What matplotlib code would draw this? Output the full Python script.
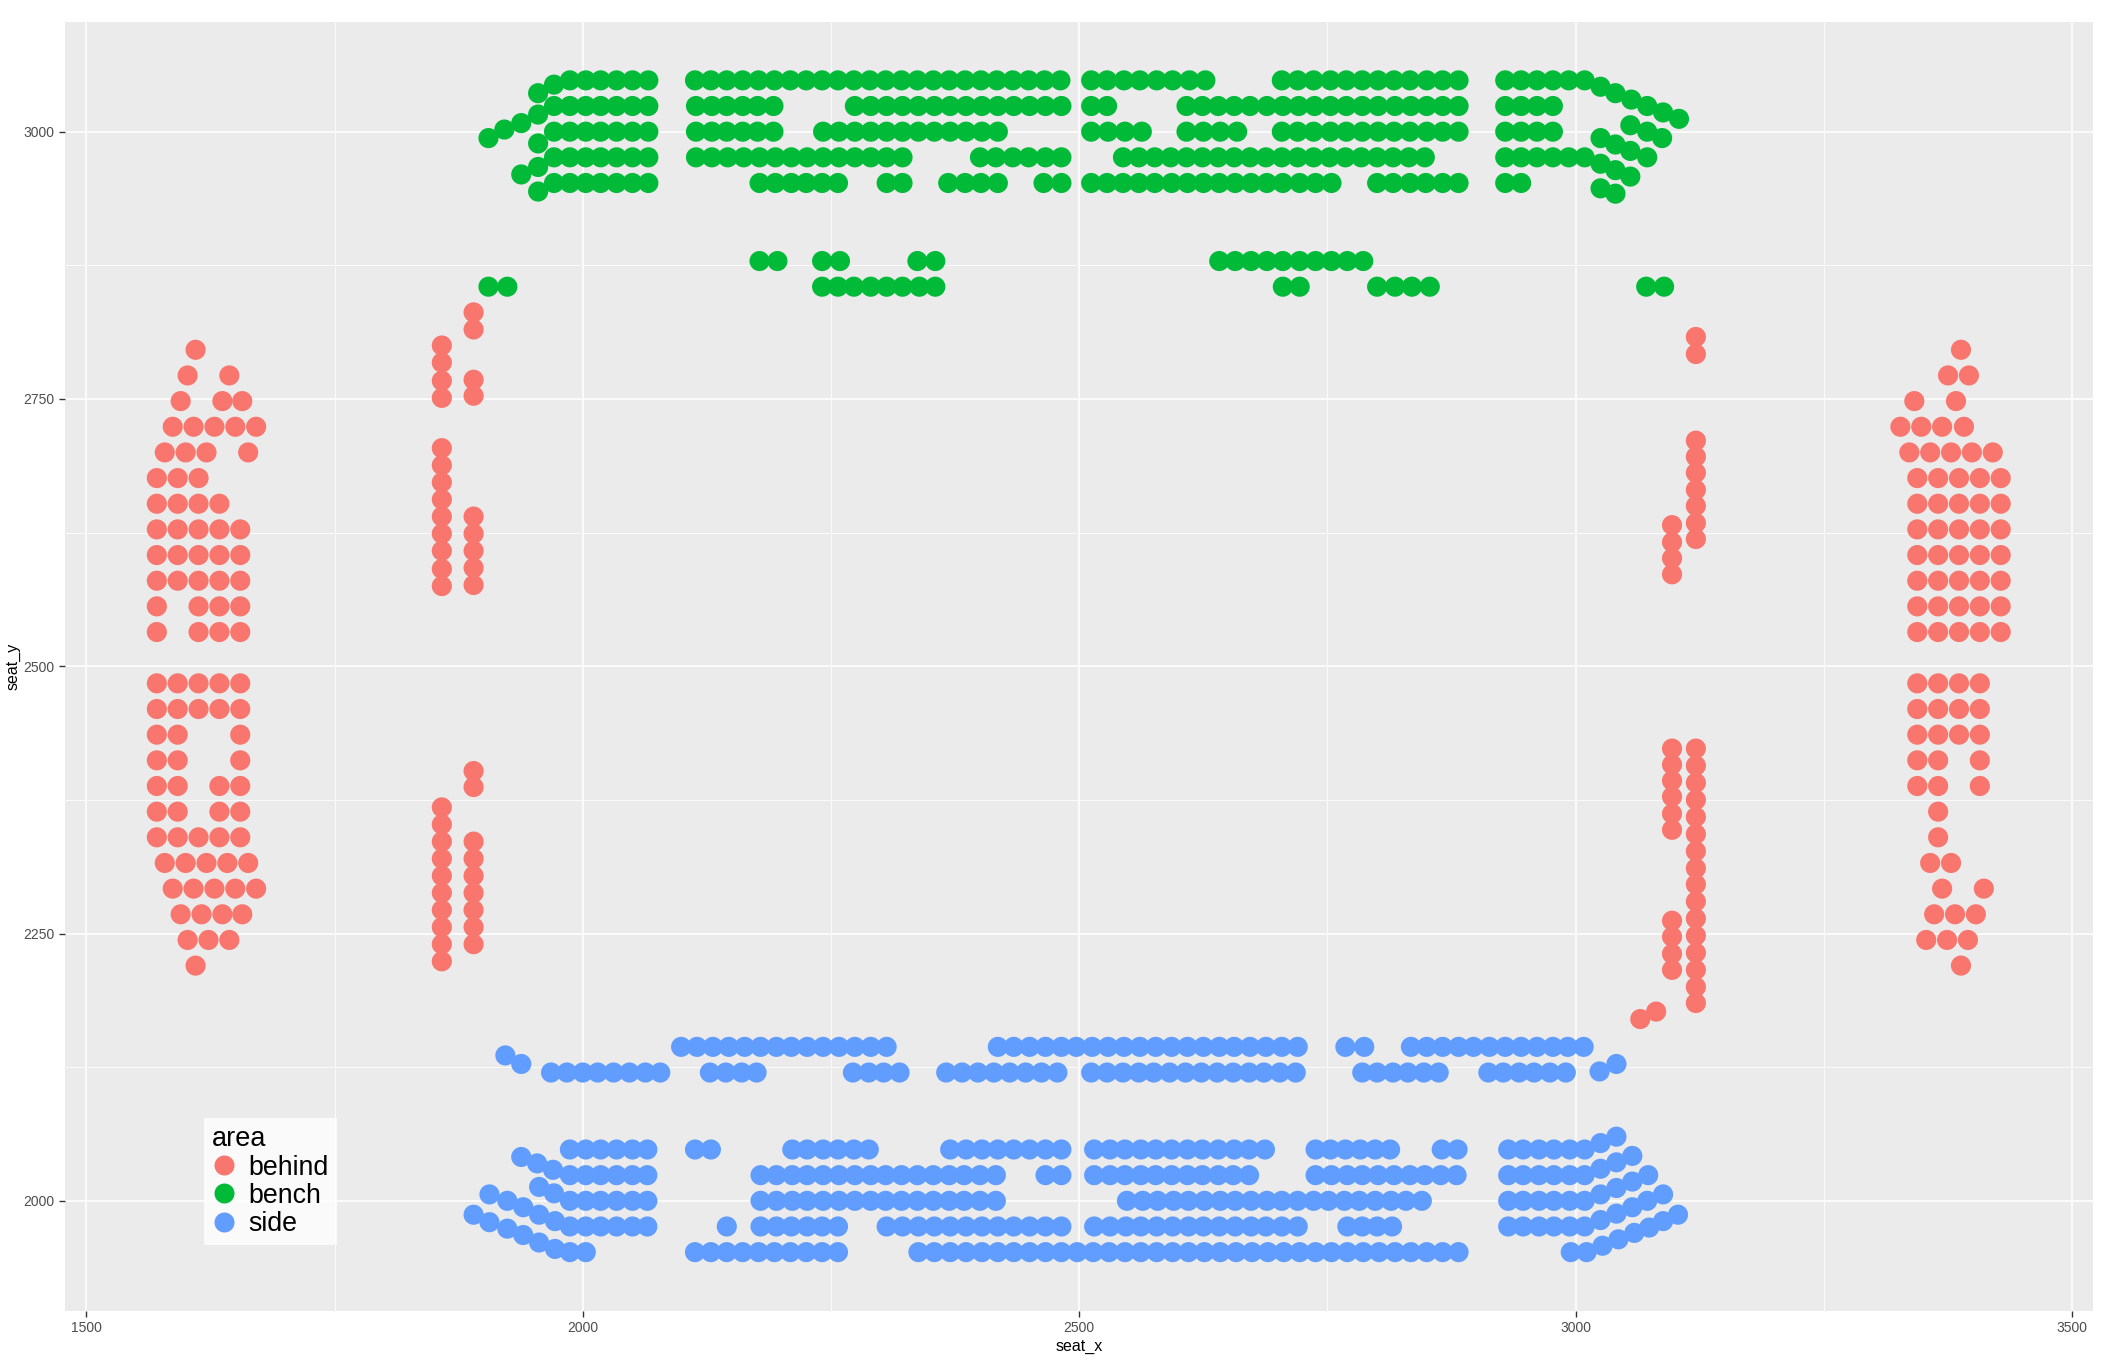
import numpy as np
import pandas as pd
import matplotlib
matplotlib.use("Agg")
import matplotlib.pyplot as plt
from matplotlib.lines import Line2D

plt.rcParams['font.family'] = ['Liberation Sans', 'DejaVu Sans']

# ggplot default hue colours
COL_BEHIND = '#F8766D'
COL_BENCH = '#00BA38'
COL_SIDE = '#619CFF'

# ---------------------------------------------------------------
# DATA  (seat_x per row, keyed by seat_y)
# ---------------------------------------------------------------
bench_rows = {
    3048: [1987, 2003, 2018, 2034, 2050, 2066,
           2113, 2129, 2145, 2161, 2177, 2193, 2209, 2225, 2241, 2257, 2273, 2289,
           2305, 2321, 2337, 2353, 2369, 2385, 2401, 2417, 2433, 2449, 2465, 2481,
           2512, 2528, 2545, 2561, 2578, 2594, 2611, 2627,
           2704, 2720, 2736, 2753, 2769, 2785, 2801, 2817, 2833, 2850, 2866, 2882,
           2929, 2945, 2961, 2977, 2993, 3009],
    3024: [1971, 1987, 2003, 2018, 2034, 2050, 2066,
           2114, 2130, 2145, 2161, 2176, 2192,
           2274, 2290, 2306, 2322, 2338, 2354, 2370, 2386, 2402, 2418, 2434, 2450, 2466, 2482,
           2512, 2528,
           2608, 2624, 2640, 2656, 2672, 2689, 2705, 2721, 2737, 2753, 2769, 2785, 2801,
           2818, 2834, 2850, 2866, 2882,
           2929, 2945, 2961, 2977],
    3000: [1971, 1987, 2003, 2018, 2034, 2050, 2066,
           2114, 2130, 2145, 2161, 2176, 2192,
           2242, 2258, 2274, 2290, 2306, 2322, 2338, 2354, 2370, 2386, 2402, 2418,
           2512, 2529, 2546, 2563,
           2608, 2625, 2642, 2659,
           2704, 2720, 2736, 2753, 2769, 2785, 2801, 2817, 2833, 2850, 2866, 2882,
           2929, 2945, 2961, 2977],
    2976: [1971, 1987, 2003, 2018, 2034, 2050, 2066,
           2114, 2130, 2146, 2162, 2178, 2194, 2210, 2226, 2242, 2258, 2274, 2290, 2306, 2322,
           2400, 2416, 2433, 2449, 2466, 2482,
           2544, 2560, 2576, 2592, 2608, 2624, 2640, 2656, 2672, 2688, 2704, 2720,
           2736, 2752, 2768, 2784, 2800, 2816, 2832, 2848,
           2929, 2945, 2961, 2977, 2993, 3009],
    2952: [1971, 1987, 2003, 2018, 2034, 2050, 2066,
           2178, 2194, 2210, 2225, 2241, 2257,
           2306, 2322,
           2368, 2385, 2401, 2418,
           2464, 2482,
           2512, 2528, 2544, 2560, 2576, 2593, 2609, 2625, 2641, 2657, 2673, 2689,
           2705, 2722, 2738, 2754,
           2800, 2816, 2833, 2849, 2866, 2882,
           2929, 2945],
    2879: [2178, 2196, 2241, 2259, 2337, 2355,
           2641, 2657, 2673, 2689, 2705, 2722, 2738, 2754, 2770, 2786],
    2855: [1905, 1924, 2241, 2257, 2273, 2290, 2306, 2322, 2339, 2355,
           2705, 2722, 2800, 2818, 2835, 2853, 3071, 3089],
}
# stepped row ends of the bench block (x, y)
bench_extra = [(1971, 3044), (1955, 3036),
               (1955, 3016), (1938, 3008), (1921, 3002), (1905, 2994),
               (1955, 2989), (1955, 2967), (1938, 2960), (1955, 2944),
               (3025, 3042), (3040, 3036), (3056, 3030), (3072, 3024), (3088, 3018), (3104, 3012),
               (3055, 3006), (3072, 3000), (3087, 2994),
               (3025, 2994), (3040, 2988), (3055, 2982), (3072, 2976),
               (3025, 2970), (3040, 2964), (3055, 2958),
               (3025, 2947), (3040, 2942)]

side_rows = {
    2144: [2099, 2115, 2131, 2147, 2163, 2179, 2195, 2210, 2226, 2242, 2258, 2274, 2290, 2306,
           2418, 2434, 2450, 2466, 2482, 2497, 2513, 2529, 2545, 2561, 2577, 2593, 2609,
           2625, 2641, 2656, 2672, 2688, 2704, 2720,
           2768, 2787,
           2834, 2850, 2866, 2882, 2897, 2913, 2929, 2945, 2961, 2977, 2992, 3008],
    2120: [1968, 1984, 2000, 2015, 2031, 2047, 2063, 2078,
           2128, 2144, 2160, 2175,
           2272, 2288, 2303, 2319,
           2366, 2382, 2398, 2414, 2430, 2446, 2462, 2478,
           2512, 2528, 2544, 2560, 2575, 2591, 2607, 2623, 2639, 2655, 2671, 2686, 2702, 2718,
           2785, 2800, 2816, 2831, 2847, 2862,
           2912, 2927, 2943, 2958, 2974, 2990],
    2048: [1987, 2003, 2018, 2034, 2050, 2065,
           2113, 2129,
           2211, 2226, 2242, 2257, 2273, 2288,
           2370, 2386, 2402, 2418, 2434, 2450, 2466, 2482,
           2515, 2531, 2546, 2562, 2577, 2593, 2609, 2624, 2640, 2656, 2671, 2687,
           2738, 2753, 2768, 2783, 2798, 2813,
           2865, 2881,
           2932, 2947, 2963, 2978, 2994, 3009],
    2024: [1987, 2003, 2018, 2034, 2050, 2065,
           2179, 2195, 2211, 2226, 2242, 2258, 2274, 2290, 2305, 2321, 2337, 2353,
           2369, 2384, 2400, 2416,
           2466, 2482,
           2515, 2531, 2546, 2562, 2577, 2593, 2609, 2624, 2640, 2655, 2671,
           2738, 2754, 2770, 2785, 2801, 2817, 2833, 2848, 2864, 2880,
           2932, 2947, 2963, 2978, 2994, 3009],
    2000: [1987, 2003, 2018, 2034, 2050, 2065,
           2179, 2195, 2211, 2226, 2242, 2258, 2274, 2290, 2305, 2321, 2337, 2353,
           2369, 2384, 2400, 2416,
           2548, 2564, 2579, 2595, 2610, 2626, 2642, 2657, 2673, 2689, 2704, 2720,
           2736, 2751, 2767, 2782, 2798, 2814, 2829, 2845,
           2932, 2947, 2963, 2978, 2994, 3009],
    1976: [1987, 2003, 2018, 2034, 2050, 2065,
           2145,
           2179, 2195, 2210, 2226, 2241, 2257,
           2306, 2322, 2338, 2354, 2370, 2386, 2402, 2418, 2434, 2450, 2466, 2482,
           2515, 2531, 2547, 2562, 2578, 2594, 2610, 2625, 2641, 2657, 2673, 2688, 2704, 2720,
           2770, 2785, 2800, 2815,
           2932, 2947, 2963, 2978, 2994, 3009],
    1952: [1987, 2003,
           2113, 2129, 2145, 2161, 2177, 2193, 2209, 2225, 2241, 2257,
           2338, 2354, 2370, 2386, 2402, 2418, 2434, 2450, 2466, 2482, 2498, 2514,
           2530, 2546, 2562, 2578, 2594, 2610, 2626, 2642, 2658, 2674, 2690, 2706,
           2722, 2738, 2754, 2770, 2786, 2802, 2818, 2834, 2850, 2866, 2882,
           2995, 3011],
}
side_extra = [(1922, 2136), (1938, 2128), (3024, 2121), (3041, 2128),
              (3025, 2054), (3041, 2060),
              (1938, 2041), (1954, 2035), (1970, 2029),
              (3025, 2030), (3041, 2036), (3057, 2042),
              (1956, 2013), (1971, 2007),
              (3025, 2006), (3041, 2012), (3057, 2018), (3073, 2024),
              (1906, 2006), (1924, 2000), (1940, 1994), (1956, 1987), (1972, 1981),
              (3025, 1982), (3041, 1988), (3057, 1994), (3072, 2000), (3088, 2006),
              (1890, 1987), (1906, 1980), (1924, 1974), (1940, 1968), (1956, 1961), (1972, 1955),
              (3027, 1958), (3043, 1964), (3059, 1970), (3074, 1975), (3088, 1981), (3103, 1987)]

behind_left_rows = {
    2796: [1610],
    2772: [1602, 1644],
    2748: [1595, 1637, 1657],
    2724: [1587, 1608, 1629, 1650, 1671],
    2700: [1579, 1600, 1621, 1663],
    2676: [1571, 1592, 1613],
    2652: [1571, 1592, 1613, 1634],
    2628: [1571, 1592, 1613, 1634, 1655],
    2604: [1571, 1592, 1613, 1634, 1655],
    2580: [1571, 1592, 1613, 1634, 1655],
    2556: [1571, 1613, 1634, 1655],
    2532: [1571, 1613, 1634, 1655],
    2484: [1571, 1592, 1613, 1634, 1655],
    2460: [1571, 1592, 1613, 1634, 1655],
    2436: [1571, 1592, 1655],
    2412: [1571, 1592, 1655],
    2388: [1571, 1592, 1634, 1655],
    2364: [1571, 1592, 1634, 1655],
    2340: [1571, 1592, 1613, 1634, 1655],
    2316: [1579, 1600, 1621, 1642, 1663],
    2292: [1587, 1608, 1629, 1650, 1671],
    2268: [1595, 1616, 1637, 1657],
    2244: [1602, 1623, 1644],
    2220: [1610],
}
behind_right_rows = {
    2796: [3388],
    2772: [3375, 3396],
    2748: [3341, 3383],
    2724: [3327, 3348, 3369, 3391],
    2700: [3336, 3357, 3378, 3399, 3420],
    2676: [3344, 3365, 3386, 3407, 3428],
    2652: [3344, 3365, 3386, 3407, 3428],
    2628: [3344, 3365, 3386, 3407, 3428],
    2604: [3344, 3365, 3386, 3407, 3428],
    2580: [3344, 3365, 3386, 3407, 3428],
    2556: [3344, 3365, 3386, 3407, 3428],
    2532: [3344, 3365, 3386, 3407, 3428],
    2484: [3344, 3365, 3386, 3407],
    2460: [3344, 3365, 3386, 3407],
    2436: [3344, 3365, 3386, 3407],
    2412: [3344, 3365, 3407],
    2388: [3344, 3365, 3407],
    2364: [3365],
    2340: [3365],
    2316: [3357, 3378],
    2292: [3369, 3411],
    2268: [3361, 3382, 3403],
    2244: [3353, 3374, 3395],
    2220: [3388],
}
# seat_y per column, keyed by seat_x
behind_cols = {
    1858: [2800, 2784, 2767, 2751, 2704, 2688, 2672, 2656, 2640, 2624, 2608, 2591, 2575,
           2368, 2352, 2336, 2320, 2304, 2288, 2272, 2256, 2240, 2224],
    1890: [2831, 2815, 2768, 2753, 2640, 2624, 2608, 2592, 2576, 2402, 2387,
           2336, 2320, 2304, 2288, 2272, 2256, 2240],
    3097: [2632, 2616, 2601, 2586, 2423, 2408, 2393, 2378, 2362, 2347,
           2262, 2247, 2231, 2216],
    3121: [2808, 2792, 2711, 2696, 2681, 2665, 2650, 2634, 2619,
           2423, 2407, 2391, 2375, 2359, 2343, 2327, 2311, 2296, 2280, 2264, 2248,
           2232, 2216, 2200, 2185],
}
behind_extra = [(3065, 2170), (3081, 2177)]

# ---------------------------------------------------------------
# build one long table
# ---------------------------------------------------------------
recs = []
for rowdict in (behind_left_rows, behind_right_rows):
    for y, xs in rowdict.items():
        recs += [(x, y, 'behind') for x in xs]
for x, ys in behind_cols.items():
    recs += [(x, y, 'behind') for y in ys]
recs += [(x, y, 'behind') for x, y in behind_extra]
for y, xs in bench_rows.items():
    recs += [(x, y, 'bench') for x in xs]
recs += [(x, y, 'bench') for x, y in bench_extra]
for y, xs in side_rows.items():
    recs += [(x, y, 'side') for x in xs]
recs += [(x, y, 'side') for x, y in side_extra]

df = pd.DataFrame(recs, columns=['seat_x', 'seat_y', 'area'])

# ---------------------------------------------------------------
# PLOT
# ---------------------------------------------------------------
fig = plt.figure(figsize=(21.08, 13.64), dpi=100)
ax = fig.add_axes([0.0306, 0.0389, 0.9623, 0.9453])
ax.set_facecolor('#EBEBEB')

colors = {'behind': COL_BEHIND, 'bench': COL_BENCH, 'side': COL_SIDE}
for area in ['behind', 'bench', 'side']:
    d = df[df['area'] == area]
    ax.scatter(d['seat_x'], d['seat_y'], s=210, c=colors[area],
               edgecolors='none', zorder=3)

ax.set_xlim(1478, 3521)
ax.set_ylim(1897, 3103)
ax.set_xticks([1500, 2000, 2500, 3000, 3500])
ax.set_yticks([2000, 2250, 2500, 2750, 3000])
ax.set_xticks([1750, 2250, 2750, 3250], minor=True)
ax.set_yticks([2125, 2375, 2625, 2875], minor=True)
ax.grid(which='major', color='white', lw=1.1)
ax.grid(which='minor', color='white', lw=0.55)
ax.set_axisbelow(True)
for s in ax.spines.values():
    s.set_visible(False)
ax.tick_params(which='major', length=4, width=1, color='#333333',
               labelsize=10, labelcolor='#4D4D4D', pad=3)
ax.tick_params(which='minor', length=0)
ax.set_xlabel('seat_x', fontsize=11.5, labelpad=3)
ax.set_ylabel('seat_y', fontsize=11.5, labelpad=2)

handles = [Line2D([], [], marker='o', ls='none', ms=14.4, mfc=colors[a], mec='none')
           for a in ['behind', 'bench', 'side']]
leg = ax.legend(handles, ['behind', 'bench', 'side'], title='area',
                loc='lower left', bbox_to_anchor=(0.0688, 0.0512),
                fontsize=19.3, title_fontsize=19.5, frameon=True, fancybox=False,
                borderpad=0.3, labelspacing=0.08, handletextpad=0.45,
                handlelength=0.9, borderaxespad=0, alignment='left')
leg.get_frame().set_facecolor('white')
leg.get_frame().set_edgecolor('none')
leg.set_zorder(5)

plt.savefig('out.png', dpi=100)
